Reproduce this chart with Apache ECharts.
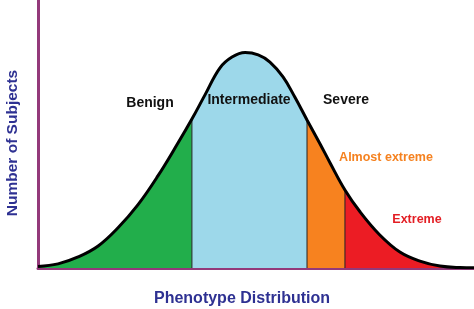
<!DOCTYPE html>
<html><head><meta charset="utf-8">
<script src="https://cdn.jsdelivr.net/npm/echarts@6/dist/echarts.min.js"></script>
<style>html,body{margin:0;padding:0;background:#fff}#c{width:474px;height:309px}</style>
</head><body><div id="c"></div>
<script>
// Curve points: x (phenotype), y (number of subjects)
const xs = [0,4.6,9.2,13.8,18.3,22.9,27.5,32.1,35.3,38.3,41.7,44.5,47.5,50.5,53.2,56.2,58.9,61.7,64.7,67.0,70.4,73.9,78.4,83.0,87.6,92.2,96.8,100];
const ys = [0.7,1.9,5.1,10.2,18.5,29.2,42.6,57.8,68.9,80.1,92.5,97.6,99.7,98.6,95.3,88.4,79.1,68.5,57.4,48.6,36.1,25.9,15.3,7.4,3.2,0.9,0.2,0.1];
// Region boundaries (x)
const bounds = [0, 35.3, 61.7, 70.4, 100];
const regionColors = ['#22AE4B', '#9DD8EA', '#F7821F', '#EC1C24'];
const labels = ['Benign', 'Intermediate', 'Severe', 'Almost extreme', 'Extreme'];
const xTitle = 'Phenotype Distribution';
const yTitle = 'Number of Subjects';

const pts = xs.map((x, i) => [x, ys[i]]);
function seg(a, b) { return pts.filter(p => p[0] >= a && p[0] <= b); }
function yAt(x) { return ys[xs.indexOf(x)]; }

const SM = 0.4;
const series = [];
for (let r = 0; r < 4; r++) {
  series.push({
    type: 'line', smooth: SM, symbol: 'none', silent: true,
    data: seg(bounds[r], bounds[r + 1]),
    lineStyle: { width: 0 },
    areaStyle: { color: regionColors[r], opacity: 1 },
    z: 2
  });
}
for (let r = 1; r < 4; r++) {
  series.push({
    type: 'line', symbol: 'none', silent: true,
    data: [[bounds[r], 0], [bounds[r], yAt(bounds[r])]],
    lineStyle: { color: '#222', width: 1 }, z: 3
  });
}
series.push({
  type: 'line', smooth: SM, symbol: 'none', silent: true,
  data: pts, lineStyle: { color: '#000', width: 3 }, z: 4
});

const chart = echarts.init(document.getElementById('c'));
const F = '"Liberation Sans", Arial, sans-serif';
function txt(t, x, y, size, color, rot) {
  return { type: 'text', x: x, y: y, z: 100, rotation: rot || 0,
    style: { text: t, font: 'bold ' + size + 'px ' + F, fill: color, align: 'center', verticalAlign: 'middle' } };
}
chart.setOption({
  animation: false,
  grid: { left: 38, right: 0, top: 0, bottom: 41 },
  xAxis: { type: 'value', min: 0, max: 100, axisLine: { show: true, onZero: false, lineStyle: { color: '#93397A', width: 3 } },
    axisTick: { show: false }, axisLabel: { show: false }, splitLine: { show: false } },
  yAxis: { type: 'value', min: 0, max: 124, axisLine: { show: true, lineStyle: { color: '#93397A', width: 3 } },
    axisTick: { show: false }, axisLabel: { show: false }, splitLine: { show: false } },
  series: series,
  graphic: [
    txt(labels[0], 150, 103, 14, '#111'),
    txt(labels[1], 249, 100, 14, '#111'),
    txt(labels[2], 346, 100, 14, '#111'),
    txt(labels[3], 386, 158, 12.5, '#F58220'),
    txt(labels[4], 417, 220, 12.5, '#E31E24'),
    txt(xTitle, 242, 299, 16, '#2E3192'),
    txt(yTitle, 13, 143, 15.5, '#2E3192', Math.PI / 2)
  ]
});
</script></body></html>
